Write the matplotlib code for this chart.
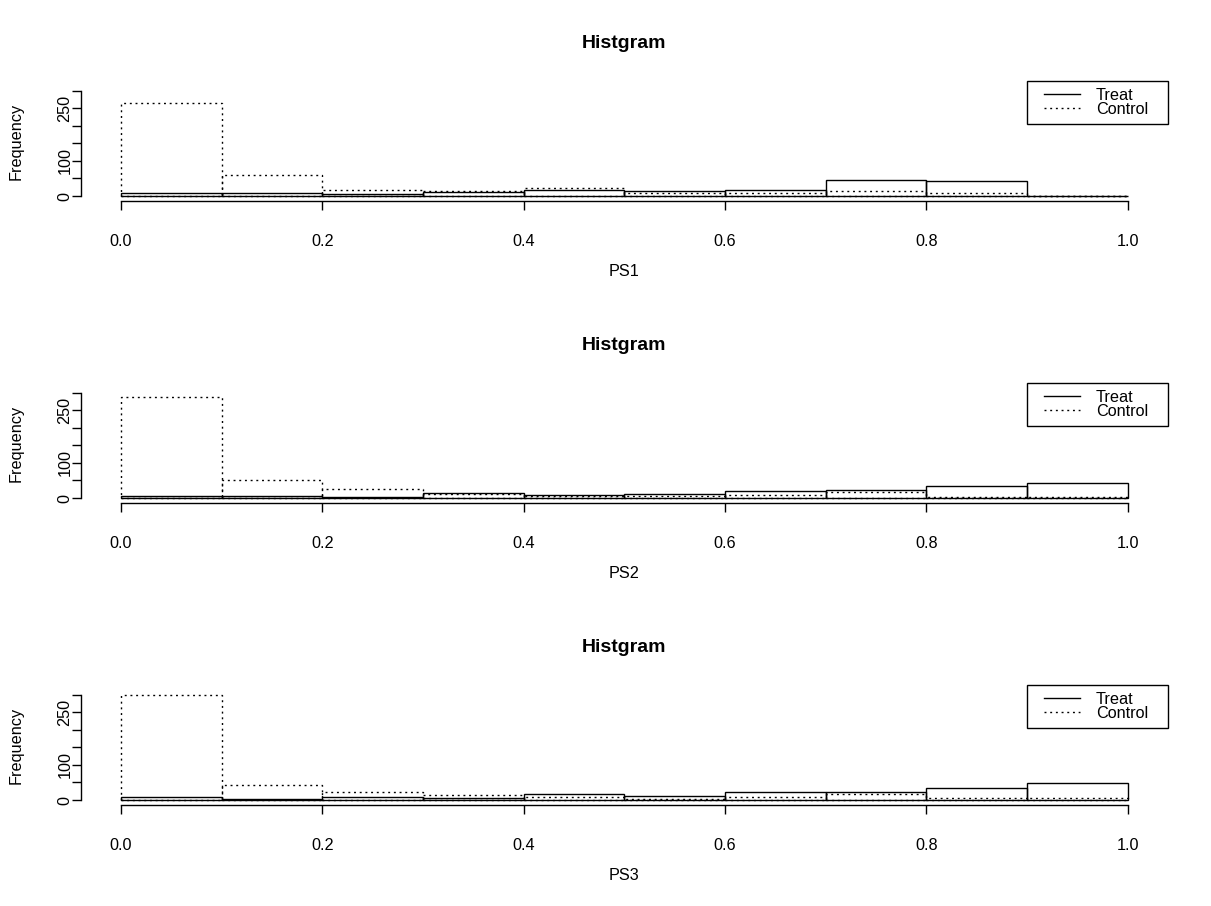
import numpy as np
import matplotlib.pyplot as plt
from matplotlib.lines import Line2D
from matplotlib.legend_handler import HandlerLine2D

plt.rcParams['font.family'] = ['Liberation Sans', 'DejaVu Sans']

# histogram breaks and counts
breaks = [0.0, 0.1, 0.2, 0.3, 0.4, 0.5, 0.6, 0.7, 0.8, 0.9, 1.0]
treat_ps1 = [10, 10, 6, 12, 16, 13, 18, 46, 43, 0]
ctrl_ps1 = [264, 61, 17, 14, 24, 8, 8, 15, 10, 0]
treat_ps2 = [6, 5, 2, 15, 10, 12, 20, 24, 33, 43]
ctrl_ps2 = [289, 50, 25, 12, 6, 7, 10, 16, 3, 3]
treat_ps3 = [10, 4, 10, 6, 17, 12, 22, 22, 35, 48]
ctrl_ps3 = [298, 44, 24, 15, 10, 3, 10, 16, 5, 5]
panels = ['PS1', 'PS2', 'PS3']
treat_all = [treat_ps1, treat_ps2, treat_ps3]
ctrl_all = [ctrl_ps1, ctrl_ps2, ctrl_ps3]
yticks = [0, 50, 100, 150, 200, 250, 300]
ylabels_shown = ['0', '', '100', '', '', '250', '']
xticks = [0.0, 0.2, 0.4, 0.6, 0.8, 1.0]

W, H = 1211, 906
fig = plt.figure(figsize=(W / 100, H / 100), dpi=100)
dotted = (0, (1.4, 2.7))
fs = 11.7

for i in range(3):
    top = 81 + 302 * i
    ax = fig.add_axes([80.7 / W, 1 - (top + 120) / H, 1087.3 / W, 120 / H])
    left = np.array(breaks[:-1])
    ax.bar(left, treat_all[i], width=0.1, align='edge', fill=False,
           edgecolor='black', linewidth=1.0, linestyle='-')
    ax.bar(left, ctrl_all[i], width=0.1, align='edge', fill=False,
           edgecolor='black', linewidth=1.0, linestyle=dotted)
    ax.set_xlim(-0.04, 1.04)
    ax.set_ylim(-14.2, 327.6)
    for s in ['top', 'right']:
        ax.spines[s].set_visible(False)
    ax.spines['left'].set_bounds(0, 300)
    ax.spines['bottom'].set_bounds(0, 1)
    ax.spines['left'].set_linewidth(1.0)
    ax.spines['bottom'].set_linewidth(1.0)
    ax.set_xticks(xticks, labels=['%.1f' % v for v in xticks])
    ax.set_yticks(yticks, labels=ylabels_shown)
    ax.tick_params(direction='out', length=6.5, width=1.0, labelsize=fs)
    ax.tick_params(axis='x', pad=17)
    ax.tick_params(axis='y', pad=-0.5, labelrotation=90)
    for lab in ax.get_yticklabels():
        lab.set_verticalalignment('center')
    ax.set_title('Histgram', fontsize=14, fontweight='bold', pad=24)
    ax.set_xlabel(panels[i], fontsize=fs)
    ax.xaxis.set_label_coords(0.5, -0.525)
    ax.set_ylabel('Frequency', fontsize=fs)
    ax.yaxis.set_label_coords(-0.0521, 0.5)

    handles = [Line2D([], [], color='black', lw=1.0, linestyle='-'),
               Line2D([], [], color='black', lw=1.0, linestyle=dotted)]
    hmap = {handles[0]: HandlerLine2D(numpoints=2, marker_pad=0.61),
            handles[1]: HandlerLine2D(numpoints=2, marker_pad=0.61)}
    wfrac = 140.6 / 1087.3
    leg = ax.legend(handles, ['Treat', 'Control'], handler_map=hmap,
                    loc='upper right', bbox_to_anchor=(1 - wfrac, 0, wfrac, 1),
                    mode='expand', borderaxespad=0, fancybox=False,
                    edgecolor='black', framealpha=1, fontsize=fs,
                    handlelength=3.38, handletextpad=0.38, labelspacing=-0.1,
                    borderpad=0.44)
    leg.get_frame().set_linewidth(1.0)

fig.savefig('out.png', dpi=100)
